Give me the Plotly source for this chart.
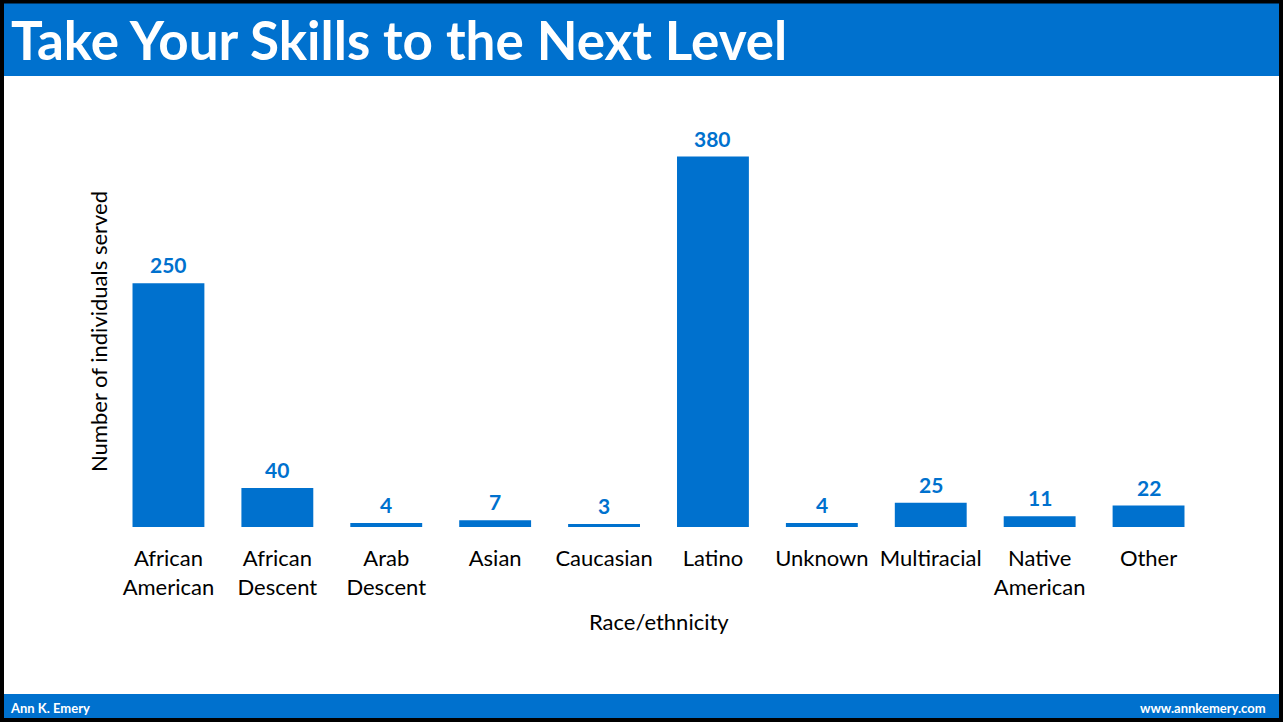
import plotly.graph_objects as go

# Data
categories = ["African<br>American", "African<br>Descent", "Arab<br>Descent", "Asian",
              "Caucasian", "Latino", "Unknown", "Multiracial", "Native<br>American", "Other"]
counts = [250, 40, 4, 7, 3, 380, 4, 25, 11, 22]

title_text = "Take Your Skills to the Next Level"
x_title = "Race/ethnicity"
y_title = "Number of individuals served"
footer_left = "Ann K. Emery"
footer_right = "www.annkemery.com"

BLUE = "#0071CE"
W, H = 1283, 722
ML, MR, MT, MB = 114, 80, 137, 195
PW, PH = W - ML - MR, H - MT - MB
FONT = "Lato"


def px_x(px):
    return (px - ML) / PW


def px_y(py):
    return (H - MB - py) / PH


fig = go.Figure(go.Bar(
    x=categories,
    y=counts,
    marker=dict(color=BLUE, line=dict(width=0)),
    hoverinfo="x+y",
))

shapes = [
    # header band
    dict(type="rect", xref="paper", yref="paper", x0=px_x(0), x1=px_x(W),
         y0=px_y(76), y1=px_y(0), fillcolor=BLUE, line=dict(width=0), layer="below"),
    # footer band
    dict(type="rect", xref="paper", yref="paper", x0=px_x(0), x1=px_x(W),
         y0=px_y(W), y1=px_y(694), fillcolor=BLUE, line=dict(width=0), layer="below"),
    # outer frame
    dict(type="rect", xref="paper", yref="paper", x0=px_x(2), x1=px_x(1281),
         y0=px_y(720), y1=px_y(1.5), fillcolor="rgba(0,0,0,0)",
         line=dict(color="black", width=4)),
]

# value labels sitting just above each bar
value_labels = [
    dict(text=f"<b>{v}</b>", x=c, y=v, xref="x", yref="y",
         xanchor="center", yanchor="bottom", yshift=4, showarrow=False,
         font=dict(family=FONT, size=21, color=BLUE))
    for c, v in zip(categories, counts)
]

annotations = value_labels + [
    dict(text=f"<b>{title_text}</b>", xref="paper", yref="paper", x=px_x(9), y=px_y(39),
         xanchor="left", yanchor="middle", showarrow=False,
         font=dict(family=FONT, size=53, color="white")),
    dict(text=f"<b>{footer_left}</b>", xref="paper", yref="paper", x=px_x(8), y=px_y(708),
         xanchor="left", yanchor="middle", showarrow=False,
         font=dict(family=FONT, size=13, color="white")),
    dict(text=f"<b>{footer_right}</b>", xref="paper", yref="paper", x=px_x(1268), y=px_y(708),
         xanchor="right", yanchor="middle", showarrow=False,
         font=dict(family=FONT, size=13, color="white")),
    dict(text=x_title, xref="paper", yref="paper", x=0.5, y=px_y(621),
         xanchor="center", yanchor="middle", showarrow=False,
         font=dict(family=FONT, size=22, color="black")),
    dict(text=y_title, xref="paper", yref="paper", x=px_x(98), y=px_y(332), textangle=-90,
         xanchor="center", yanchor="middle", showarrow=False,
         font=dict(family=FONT, size=22, color="black")),
]

fig.update_layout(
    width=W, height=H,
    margin=dict(l=ML, r=MR, t=MT, b=MB, pad=0),
    paper_bgcolor="white", plot_bgcolor="white",
    bargap=0.34,
    showlegend=False,
    shapes=shapes,
    annotations=annotations,
    font=dict(family=FONT, color="black"),
    xaxis=dict(showgrid=False, showline=False, zeroline=False,
               ticks="outside", ticklen=12, tickcolor="rgba(0,0,0,0)",
               tickfont=dict(family=FONT, size=22, color="black")),
    yaxis=dict(range=[0, 400], showgrid=False, showline=False, zeroline=False,
               showticklabels=False, ticks=""),
)

fig.write_html("out.html")
